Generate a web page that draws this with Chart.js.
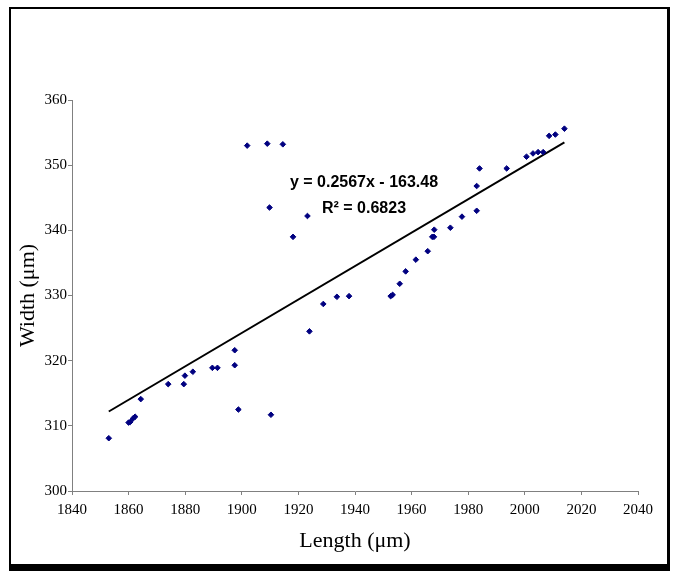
<!DOCTYPE html>
<html>
<head>
<meta charset="utf-8">
<script src="https://cdn.jsdelivr.net/npm/chart.js@4.4.0/dist/chart.umd.min.js"></script>
<style>
  html, body { margin: 0; padding: 0; background: #fff; }
  #wrap { position: relative; width: 674px; height: 571px; }
  #frame {
    position: absolute; left: 9px; top: 7px; right: 4px; bottom: 0;
    border: 2px solid #000; border-right-width: 3px; border-bottom-width: 7px;
    pointer-events: none;
  }
</style>
</head>
<body>
<div id="wrap">
  <canvas id="chart"></canvas>
  <div id="frame"></div>
</div>
<script>
// Length (µm) and width (µm) of each sample
const lengths = [1853.0, 1860.0, 1860.6, 1861.5, 1862.3, 1864.3, 1874.0, 1879.5, 1879.9, 1882.7,
  1889.6, 1891.4, 1897.5, 1897.5, 1898.8, 1910.3, 1901.9, 1909.0, 1914.5, 1909.8,
  1923.2, 1918.1, 1923.9, 1928.8, 1933.6, 1937.9, 1952.6, 1953.3, 1955.8, 1957.9,
  1961.5, 1965.7, 1967.3, 1967.9, 1968.0, 1973.7, 1977.8, 1983.0, 1983.0, 1984.0,
  1993.6, 2000.6, 2002.9, 2004.7, 2006.5, 2008.6, 2010.8, 2014.0];
const widths = [308.1, 310.5, 310.6, 311.1, 311.4, 314.1, 316.4, 316.4, 317.7, 318.3,
  318.9, 318.9, 319.3, 321.6, 312.5, 311.7, 353.0, 353.3, 353.2, 343.5,
  342.2, 339.0, 324.5, 328.7, 329.8, 329.9, 329.9, 330.1, 331.8, 333.7,
  335.5, 336.8, 339.0, 339.0, 340.1, 340.4, 342.1, 343.0, 346.8, 349.5,
  349.5, 351.3, 351.8, 352.0, 352.0, 354.5, 354.7, 355.6];

// linear trend line end points
const trendX = [1853, 2014];
const trendY = [312.2, 353.5];

const equationLines = ['y = 0.2567x - 163.48', 'R² = 0.6823'];

const xTicks = [1840, 2040, 20];  // min, max, step
const yTicks = [300, 360, 10];

const points = lengths.map((v, i) => ({ x: v, y: widths[i] }));
const trend = trendX.map((v, i) => ({ x: v, y: trendY[i] }));

const equationLabel = {
  id: 'equationLabel',
  afterDatasetsDraw(chart) {
    const ctx = chart.ctx;
    ctx.save();
    ctx.fillStyle = '#000';
    ctx.font = 'bold 16px "Liberation Sans", Arial, sans-serif';
    ctx.textAlign = 'center';
    ctx.textBaseline = 'alphabetic';
    ctx.fillText(equationLines[0], 364, 187);
    ctx.fillText(equationLines[1], 364, 213);
    ctx.restore();
  }
};

const axisGray = '#808080';
const tickFont = { family: '"Liberation Serif", "Times New Roman", serif', size: 15 };
const titleFont = { family: '"Liberation Serif", "Times New Roman", serif', size: 22 };
const plain = v => String(v);

new Chart(document.getElementById('chart'), {
  type: 'scatter',
  data: {
    datasets: [{
      label: 'samples',
      data: points,
      pointStyle: 'rectRot',
      pointRadius: 2.8,
      backgroundColor: '#000080',
      borderColor: '#000080',
      borderWidth: 1
    }, {
      type: 'line',
      label: 'trend',
      data: trend,
      borderColor: '#000',
      borderWidth: 2,
      pointRadius: 0,
      fill: false
    }]
  },
  options: {
    responsive: true,
    maintainAspectRatio: false,
    animation: false,
    devicePixelRatio: 1,
    layout: { padding: { left: 0, top: 100, right: 36, bottom: 0 } },
    plugins: { legend: { display: false }, tooltip: { enabled: false } },
    scales: {
      x: {
        type: 'linear',
        min: xTicks[0], max: xTicks[1],
        ticks: { stepSize: xTicks[2], color: '#000', font: tickFont, padding: 6, maxRotation: 0, callback: plain },
        grid: { drawOnChartArea: false, drawTicks: true, tickLength: 4, color: axisGray },
        border: { color: axisGray, width: 1 },
        title: { display: true, text: 'Length (μm)', color: '#000', font: titleFont, padding: { top: 0, bottom: 17 } },
        afterFit(scale) { scale.height = 80; }
      },
      y: {
        type: 'linear',
        min: yTicks[0], max: yTicks[1],
        ticks: { stepSize: yTicks[2], color: '#000', font: tickFont, padding: 1, callback: plain },
        grid: { drawOnChartArea: false, drawTicks: true, tickLength: 4, color: axisGray },
        border: { color: axisGray, width: 1 },
        title: { display: true, text: 'Width (μm)', color: '#000', font: titleFont, padding: { top: 15, bottom: 0 } },
        afterFit(scale) { scale.width = 72; }
      }
    }
  },
  plugins: [equationLabel]
});
</script>
</body>
</html>
